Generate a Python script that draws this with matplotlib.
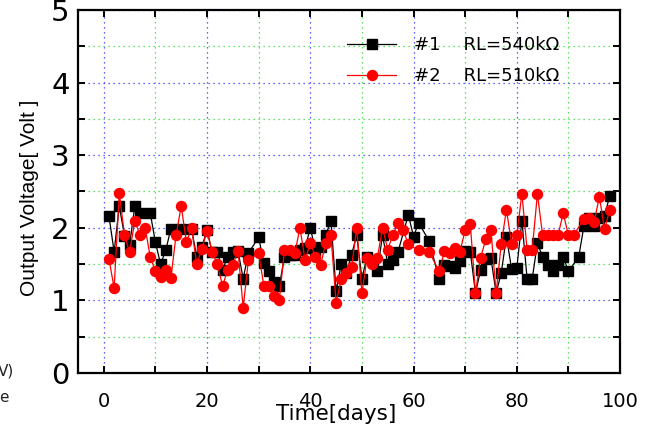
import matplotlib
matplotlib.use("Agg")
import matplotlib.pyplot as plt
from matplotlib.ticker import MultipleLocator

plt.rcParams['font.family'] = ['DejaVu Sans']

days1 = [1, 2, 3, 4, 5, 6, 7, 9, 10, 11, 12, 13, 15, 17, 18, 19, 20, 21, 22, 23, 24, 25, 26, 27, 28,
         30, 31, 32, 33, 34, 35, 36, 37, 38, 39, 40, 41, 42, 43, 44, 45, 46, 47, 48, 49, 50, 51,
         53, 54, 55, 56, 57, 59, 60, 61, 63, 65, 66, 67, 68, 69, 70, 71, 72, 73, 74, 75, 76, 77,
         78, 79, 80, 81, 82, 83, 84, 85, 86, 87, 88, 89, 90, 92, 93, 94, 95, 96, 97, 98]
volt1 = [2.16, 1.67, 2.30, 1.89, 1.76, 2.30, 2.20, 2.20, 1.80, 1.50, 1.69, 1.99, 1.99, 1.98, 1.60,
         1.74, 1.97, 1.66, 1.67, 1.42, 1.60, 1.66, 1.68, 1.30, 1.65,
         1.87, 1.51, 1.40, 1.26, 1.20, 1.60, 1.62, 1.62, 1.69, 1.72, 2.00, 1.69, 1.74, 1.90, 2.10,
         1.13, 1.50, 1.38, 1.63, 1.90, 1.30, 1.60,
         1.40, 1.90, 1.50, 1.55, 1.67, 2.18, 1.88, 2.07, 1.82, 1.29, 1.49, 1.48, 1.45, 1.54, 1.68,
         1.67, 1.10, 1.42, 1.57, 1.58, 1.10, 1.38,
         1.88, 1.43, 1.44, 2.10, 1.30, 1.30, 1.79, 1.60, 1.49, 1.40, 1.49, 1.60, 1.40, 1.60, 2.02,
         2.13, 2.02, 2.13, 2.16, 2.44]

days2 = [1, 2, 3, 4, 5, 6, 7, 8, 9, 10, 11, 12, 13, 14, 15, 16, 17, 18, 19, 20, 21, 22, 23, 24, 25,
         26, 27, 28, 30, 31, 32, 33, 34, 35, 36, 37, 38, 39, 40, 41, 42, 43, 44, 45, 46, 47, 48,
         49, 50, 51, 52, 53, 54, 55, 56, 57, 58, 59, 61, 63, 65, 66, 67, 68, 69, 70, 71, 72, 73,
         74, 75, 76, 77, 78, 79, 80, 81, 82, 83, 84, 85, 86, 87, 88, 89, 90, 91, 93, 94, 95, 96,
         97, 98]
volt2 = [1.57, 1.17, 2.48, 1.90, 1.66, 2.10, 1.90, 2.00, 1.60, 1.40, 1.32, 1.42, 1.31, 1.90, 2.30,
         1.80, 2.00, 1.50, 1.71, 1.96, 1.66, 1.50, 1.20, 1.42, 1.49,
         1.68, 0.90, 1.55, 1.65, 1.20, 1.20, 1.06, 1.01, 1.69, 1.70, 1.65, 2.00, 1.55, 1.79, 1.60,
         1.49, 1.79, 1.90, 0.97, 1.29, 1.38, 1.46,
         2.00, 1.10, 1.59, 1.50, 1.59, 2.00, 1.70, 1.90, 2.07, 1.97, 1.77, 1.69, 1.67, 1.40, 1.68,
         1.65, 1.72, 1.67, 1.97, 2.05, 1.10, 1.59,
         1.84, 1.97, 1.10, 1.78, 2.25, 1.78, 1.90, 2.47, 1.70, 1.70, 2.47, 1.90, 1.90, 1.90, 1.90,
         2.20, 1.90, 1.90, 2.12, 2.13, 2.08, 2.43,
         1.98, 2.24]

label1 = "#1    RL=540k\u03a9"
label2 = "#2    RL=510k\u03a9"
xticks = [0, 20, 40, 60, 80, 100]
yticks = [0, 1, 2, 3, 4, 5]

fig = plt.figure(figsize=(6.48, 4.33), dpi=100)
ax = fig.add_axes([78/648, 1-373/433, (620-78)/648, (373-10)/433])

ax.plot(days1, volt1, color='black', lw=0.9, marker='s', ms=6.8,
        mfc='black', mec='black', label=label1, zorder=3)
ax.plot(days2, volt2, color='red', lw=0.9, marker='o', ms=7.2,
        mfc='red', mec='red', label=label2, zorder=4)

ax.set_xlim(-5, 100)
ax.set_ylim(0, 5)
ax.set_xticks(xticks)
ax.set_yticks(yticks)
ax.xaxis.set_minor_locator(MultipleLocator(10))
ax.yaxis.set_minor_locator(MultipleLocator(0.5))

ax.grid(which='major', color='#3333ff', linestyle=(0, (1, 3)), lw=0.9)
ax.grid(which='minor', color='#33dd33', linestyle=(0, (1, 3)), lw=0.9)
ax.set_axisbelow(True)

for s in ax.spines.values():
    s.set_linewidth(1.6)

ax.tick_params(which='both', direction='in', top=True, right=True, width=1.4, length=5)
ax.tick_params(axis='y', which='major', labelsize=21, pad=6)
ax.tick_params(axis='x', which='major', labelsize=14, pad=14)

fig.text(30/648, 1-198/433, "Output Voltage[ Volt ]", rotation=90, fontsize=15,
         family=['Liberation Sans', 'DejaVu Sans'], ha='center', va='center')
fig.text(336/648, 1-414/433, "Time[days]", fontsize=15.5, ha='center', va='center')

leg = ax.legend(loc='upper left', bbox_to_anchor=(331/648, 1-20/433),
                bbox_transform=fig.transFigure, frameon=False, fontsize=13,
                handlelength=2.7, handletextpad=1.0, labelspacing=0.7)

fig.text(-0.004, 1-371/433, "V)", fontsize=11, ha='left', va='center', color='#222222')
fig.text(-0.002, 1-398/433, "e", fontsize=11, ha='left', va='center', color='#222222')

fig.savefig("out.png", dpi=100)
